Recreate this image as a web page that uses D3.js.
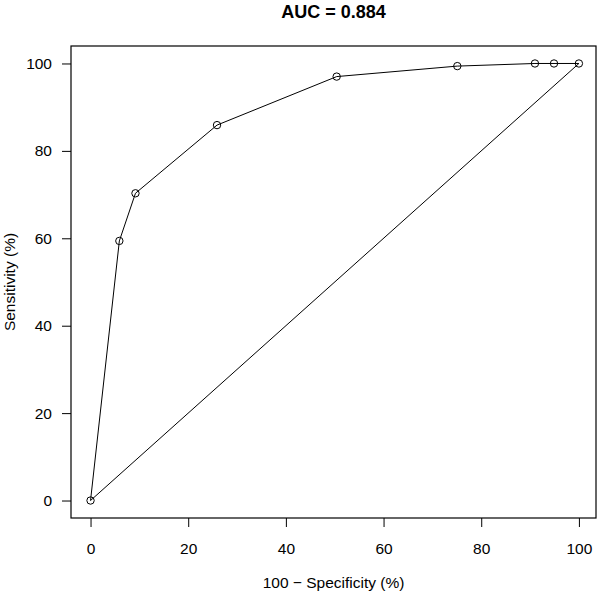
<!DOCTYPE html>
<html>
<head>
<meta charset="utf-8">
<script src="https://cdn.jsdelivr.net/npm/d3@7"></script>
<style>
	body { margin: 0; background: #fff; }
	text { font-family: "Liberation Sans", Arial, sans-serif; fill: #000; }
</style>
</head>
<body>
<script>
// ROC points: 100 - specificity, sensitivity
var fpr = [0, 5.9, 9.2, 25.9, 50.4, 75.1, 91.0, 94.9, 100];
var sens = [0, 59.4, 70.3, 85.9, 97.0, 99.4, 100, 100, 100];
var xTicks = [0, 20, 40, 60, 80, 100],
	yTicks = [0, 20, 40, 60, 80, 100];
var title = "AUC = 0.884",
	xTitle = "100 \u2212 Specificity (%)",
	yTitle = "Sensitivity (%)";

var svg = d3.select("body").append("svg")
	.attr("width", 600)
	.attr("height", 593);

var margin = {top: 46, right: 4, bottom: 75, left: 71},
	width = +svg.attr("width") - margin.left - margin.right,
	height = +svg.attr("height") - margin.top - margin.bottom;

var g = svg.append("g").attr("transform", "translate(" + margin.left + "," + margin.top + ")");

// R style padding round the data
var x = d3.scaleLinear().domain([-4, 103.5]).range([0, width]);
var y = d3.scaleLinear().domain([-4, 104]).range([height, 0]);

var pts = fpr.map(function(d, i){ return [d, sens[i]]; });

// curve, then the diagonal back to the origin
var path = pts.concat([[0, 0]]);
g.append("path")
	.attr("d", d3.line().x(function(d){return x(d[0]);}).y(function(d){return y(d[1]);})(path))
	.attr("fill", "none")
	.attr("stroke", "#000")
	.attr("stroke-width", 1);

g.selectAll("circle.pt").data(pts)
	.enter().append("circle")
		.attr("class", "pt")
		.attr("cx", function(d){return x(d[0]);})
		.attr("cy", function(d){return y(d[1]);})
		.attr("r", 3.7)
		.attr("fill", "none")
		.attr("stroke", "#000")
		.attr("stroke-width", 1);

// box
g.append("rect")
	.attr("x", 0).attr("y", 0)
	.attr("width", width).attr("height", height)
	.attr("fill", "none")
	.attr("stroke", "#000")
	.attr("stroke-width", 1.2);

var xAxis = g.append("g")
	.attr("transform", "translate(0," + height + ")")
	.call(d3.axisBottom(x).tickValues(xTicks).tickSize(9).tickPadding(16));
var yAxis = g.append("g")
	.call(d3.axisLeft(y).tickValues(yTicks).tickSize(9).tickPadding(10));

[xAxis, yAxis].forEach(function(a){
	a.select(".domain").remove();
	a.selectAll("line").attr("stroke", "#000");
	a.selectAll("text")
		.style("font-family", "'Liberation Sans', Arial, sans-serif")
		.style("font-size", "15.5px")
		.attr("fill", "#000");
});

svg.append("text")
	.attr("x", margin.left + width / 2)
	.attr("y", 18)
	.attr("text-anchor", "middle")
	.attr("font-size", 18)
	.attr("font-weight", "bold")
	.text(title);

svg.append("text")
	.attr("x", margin.left + width / 2)
	.attr("y", 588)
	.attr("text-anchor", "middle")
	.attr("font-size", 15.5)
	.text(xTitle);

svg.append("text")
	.attr("transform", "translate(14.5," + (margin.top + height / 2) + ") rotate(-90)")
	.attr("text-anchor", "middle")
	.attr("font-size", 15.5)
	.text(yTitle);
</script>
</body>
</html>
